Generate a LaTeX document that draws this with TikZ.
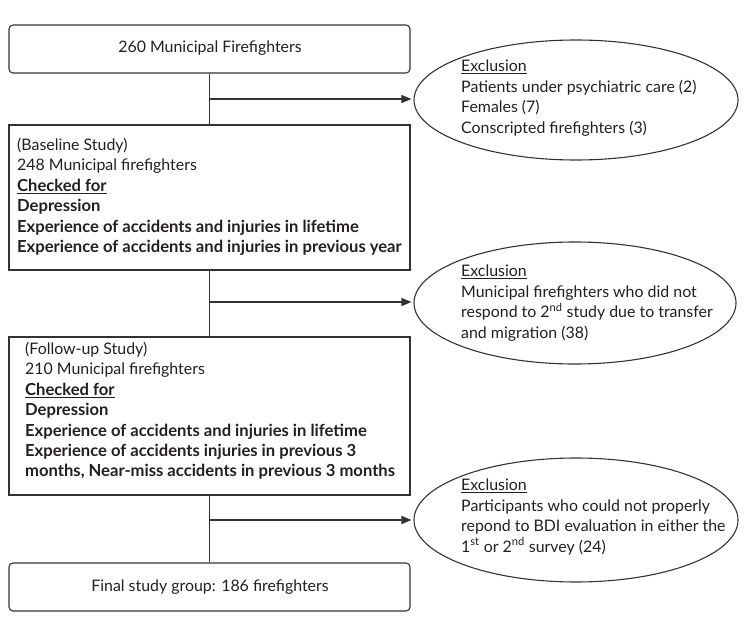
\documentclass[tikz,border=0pt]{standalone}
\usepackage{fontspec}
\setmainfont{Lato}
\usetikzlibrary{shapes.geometric,arrows.meta}
\definecolor{ln}{HTML}{333333}
\definecolor{tx}{HTML}{231F20}
\newcommand{\bl}[1]{{\fontsize{16.6}{20.4}\selectfont\bfseries #1}}
\begin{document}
\begin{tikzpicture}[x=1pt,y=-1pt,
  box/.style={draw=ln,line width=1.1pt,inner sep=0pt},
  rbox/.style={box,rounded corners=4pt},
  oval/.style={ellipse,draw=ln,line width=1.1pt,inner sep=0pt},
  txt/.style={inner sep=0pt,align=left,text=tx,font=\fontsize{15.9}{20.4}\selectfont},
  ctxt/.style={inner sep=0pt,text=tx,font=\fontsize{15.9}{20.4}\selectfont},
  conn/.style={draw=ln,line width=1.1pt},
  arr/.style={conn,-{Triangle[length=10pt,width=8pt]},shorten >=2pt}]
\useasboundingbox (0,0) rectangle (745,623);
% boxes
\node[rbox,minimum width=401,minimum height=48] (b1) at (209.5,49) {};
\node[box,minimum width=401,minimum height=145] (b2) at (209.5,197.5) {};
\node[box,minimum width=401,minimum height=158] (b3) at (209.5,416) {};
\node[rbox,minimum width=401,minimum height=48] (b4) at (209.5,587) {};
% ellipses
\node[oval,minimum width=324,minimum height=120] (e1) at (576,100) {};
\node[oval,minimum width=322,minimum height=122] (e2) at (575,303) {};
\node[oval,minimum width=324,minimum height=124] (e3) at (576,520) {};
% texts
\node[ctxt] (t1) at (210,48) {260 Municipal Firefighters};
\node[ctxt] (t4) at (210,587) {Final study group: 186 firefighters};
\node[txt,anchor=north west] (t2) at (17,138) {(Baseline Study)\\
248 Municipal firefighters\\
\bl{\underline{Checked for}}\\
\bl{Depression}\\
\bl{Experience of accidents and injuries in lifetime}\\
\bl{Experience of accidents and injuries in previous year}};
\node[txt,anchor=north west] (t3) at (25,342) {(Follow-up Study)\\
210 Municipal firefighters\\
\bl{\underline{Checked for}}\\
\bl{Depression}\\
\bl{Experience of accidents and injuries in lifetime}\\
\bl{Experience of accidents injuries in previous 3}\\
\bl{months, Near-miss accidents in previous 3 months}};
\node[txt,anchor=north west] (x1) at (461,60) {\underline{Exclusion}\\
Patients under psychiatric care (2)\\
Females (7)\\
Conscripted firefighters (3)};
\node[txt,anchor=north west] (x2) at (461,265) {\underline{Exclusion}\\
Municipal firefighters who did not\\
respond to 2\textsuperscript{nd} study due to transfer\\
and migration (38)};
\node[txt,anchor=north west] (x3) at (461,479) {\underline{Exclusion}\\
Participants who could not properly\\
repond to BDI evaluation in either the\\
1\textsuperscript{st} or 2\textsuperscript{nd} survey (24)};
% connectors
\coordinate (j1) at (210,99);
\coordinate (j2) at (210,302);
\coordinate (j3) at (210,520);
\draw[conn] (b1.south) -- (b2.north);
\draw[conn] (b2.south) -- (b3.north);
\draw[conn] (b3.south) -- (b4.north);
\draw[arr] (j1) -- (j1 -| e1.west);
\draw[arr] (j2) -- (j2 -| e2.west);
\draw[arr] (j3) -- (j3 -| e3.west);
\end{tikzpicture}
\end{document}
